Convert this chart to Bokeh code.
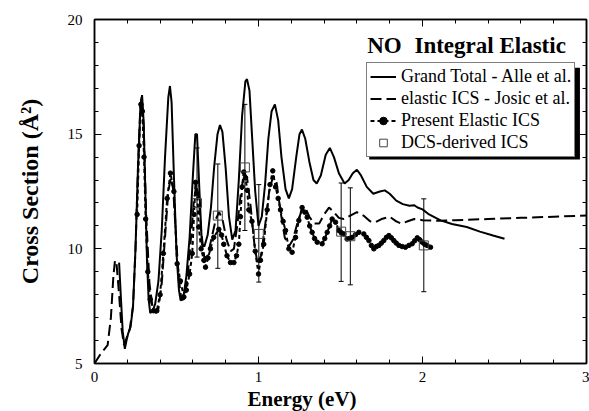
from bokeh.plotting import figure
from bokeh.models import (ColumnDataSource, Whisker, TeeHead, Legend, LegendItem, Label, Title,
                          LinearAxis, SingleIntervalTicker, BoxAnnotation, Range1d)
from bokeh.embed import file_html
from bokeh.resources import INLINE

# ---- Data ----
alle_E = [0.150, 0.160, 0.172, 0.185, 0.195, 0.205, 0.220, 0.235, 0.250, 0.265, 0.280, 0.290,
          0.300, 0.310, 0.320, 0.330, 0.340, 0.355, 0.370, 0.390, 0.410, 0.430, 0.450, 0.460,
          0.470, 0.485, 0.500, 0.515, 0.525, 0.540, 0.560, 0.580, 0.600, 0.615, 0.625, 0.640,
          0.655, 0.670, 0.690, 0.710, 0.730, 0.750, 0.765, 0.780, 0.800, 0.820, 0.840, 0.860,
          0.880, 0.900, 0.920, 0.930, 0.945, 0.960, 0.980, 1.000, 1.020, 1.040, 1.060, 1.080,
          1.100, 1.120, 1.140, 1.165, 1.185, 1.205, 1.230, 1.250, 1.265, 1.285, 1.310, 1.335,
          1.355, 1.380, 1.410, 1.435, 1.460, 1.490, 1.525, 1.550, 1.575, 1.600, 1.625, 1.660,
          1.700, 1.740, 1.770, 1.800, 1.840, 1.880, 1.920, 1.950, 1.970, 2.000, 2.040, 2.110,
          2.180, 2.270, 2.350, 2.430, 2.500]
alle_S = [9.4, 8.0, 6.4, 5.64, 6.0, 6.3, 6.6, 7.5, 10.0, 13.5, 16.2, 16.7,
          15.5, 12.5, 9.5, 7.8, 7.2, 7.3, 7.6, 8.6, 10.8, 14.0, 16.6, 17.1,
          16.4, 13.0, 9.8, 8.2, 7.75, 7.8, 8.8, 10.5, 13.2, 15.0, 15.0, 12.5,
          10.2, 10.1, 10.6, 11.8, 13.6, 15.0, 15.4, 15.1, 13.5, 11.4, 10.4, 10.8,
          13.0, 15.8, 17.3, 17.4, 16.9, 15.0, 12.5, 11.0, 11.4, 12.8, 14.8, 16.0,
          16.3, 15.6, 14.0, 12.6, 12.2, 12.6, 14.0, 15.0, 15.2, 14.8, 13.8, 13.0,
          12.85, 13.2, 14.1, 14.4, 14.0, 13.3, 12.85, 13.0, 13.3, 13.45, 13.2, 12.7,
          12.4, 12.5, 12.55, 12.4, 12.1, 11.95, 11.88, 11.9, 11.8, 11.72, 11.5, 11.24,
          11.08, 10.95, 10.75, 10.58, 10.44]

josic_E = [0.000, 0.040, 0.080, 0.100, 0.115, 0.125, 0.135, 0.150, 0.165, 0.180, 0.195, 0.215,
           0.235, 0.250, 0.265, 0.280, 0.288, 0.300, 0.315, 0.335, 0.355, 0.375, 0.390, 0.410,
           0.430, 0.450, 0.465, 0.480, 0.500, 0.515, 0.530, 0.545, 0.565, 0.585, 0.605, 0.620,
           0.635, 0.650, 0.670, 0.690, 0.715, 0.740, 0.760, 0.780, 0.805, 0.830, 0.850, 0.870,
           0.895, 0.915, 0.930, 0.950, 0.975, 0.995, 1.015, 1.040, 1.065, 1.090, 1.110, 1.135,
           1.160, 1.185, 1.210, 1.240, 1.265, 1.285, 1.310, 1.340, 1.370, 1.400, 1.430, 1.460,
           1.490, 1.520, 1.560, 1.600, 1.640, 1.680, 1.710, 1.750, 1.800, 1.840, 1.870, 1.910,
           1.950, 2.000, 2.100, 2.200, 2.400, 2.600, 2.800, 3.000]
josic_S = [5.0, 5.45, 5.8, 7.0, 8.8, 9.5, 9.3, 8.0, 6.5, 5.8, 6.1, 6.5,
           7.5, 10.0, 13.5, 16.3, 16.6, 15.3, 11.5, 8.5, 7.4, 7.2, 7.4, 8.5,
           10.5, 12.5, 13.1, 12.6, 10.2, 8.6, 7.8, 7.8, 8.6, 10.2, 12.0, 12.8,
           12.3, 10.8, 9.6, 9.7, 10.5, 11.3, 11.6, 11.3, 10.4, 9.9, 10.0, 11.0,
           12.6, 13.3, 13.1, 12.0, 10.2, 9.3, 9.7, 11.0, 12.5, 13.2, 12.9, 11.6,
           10.5, 10.1, 10.4, 11.2, 11.7, 11.8, 11.4, 11.1, 11.1, 11.5, 11.8, 11.6,
           11.35, 11.3, 11.45, 11.6, 11.45, 11.2, 11.15, 11.3, 11.4, 11.2, 11.1, 11.2,
           11.3, 11.25, 11.22, 11.25, 11.3, 11.35, 11.4, 11.45]

present_E = [0.260, 0.272, 0.283, 0.292, 0.302, 0.312, 0.325, 0.340, 0.360, 0.380, 0.400, 0.420,
             0.443, 0.463, 0.484, 0.504, 0.524, 0.545, 0.560, 0.580, 0.596, 0.607, 0.616, 0.626,
             0.636, 0.650, 0.667, 0.677, 0.692, 0.707, 0.727, 0.758, 0.775, 0.788, 0.808, 0.829,
             0.850, 0.866, 0.880, 0.890, 0.900, 0.910, 0.921, 0.931, 0.941, 0.960, 0.980, 1.000,
             1.012, 1.032, 1.053, 1.070, 1.087, 1.104, 1.120, 1.134, 1.150, 1.165, 1.185, 1.205,
             1.226, 1.246, 1.266, 1.282, 1.297, 1.312, 1.327, 1.342, 1.358, 1.388, 1.404, 1.419,
             1.434, 1.449, 1.470, 1.490, 1.505, 1.520, 1.540, 1.555, 1.571, 1.592, 1.612, 1.642,
             1.658, 1.673, 1.688, 1.703, 1.719, 1.734, 1.749, 1.764, 1.780, 1.795, 1.810, 1.825,
             1.840, 1.856, 1.876, 1.896, 1.917, 1.937, 1.952, 1.968, 1.983, 1.998, 2.013, 2.028,
             2.049]
present_S = [11.5, 14.5, 16.3, 16.0, 14.0, 11.3, 9.0, 7.8, 7.3, 7.3, 8.0, 9.8,
             12.2, 13.3, 12.5, 9.35, 8.6, 7.9, 8.2, 8.9, 9.8, 11.5, 12.9, 12.4,
             10.95, 10.0, 9.5, 9.2, 9.6, 10.0, 10.5, 10.85, 10.6, 10.2, 9.7, 9.4,
             9.4, 9.7, 10.2, 11.4, 12.7, 13.35, 13.1, 12.55, 11.7, 11.2, 9.9, 8.9,
             9.5, 10.2, 11.7, 12.8, 13.4, 12.7, 12.2, 11.7, 11.2, 10.8, 10.0, 9.85,
             10.5, 11.24, 11.8, 11.6, 11.38, 11.0, 10.72, 10.45, 10.29, 10.22, 10.45, 10.72,
             11.0, 11.3, 11.16, 10.8, 10.7, 10.65, 10.43, 10.45, 10.5, 10.62, 10.72, 10.65,
             10.5, 10.36, 10.15, 10.0, 10.1, 10.15, 10.25, 10.36, 10.5, 10.58, 10.48, 10.36,
             10.25, 10.15, 10.1, 10.07, 10.15, 10.22, 10.35, 10.48, 10.4, 10.29, 10.2, 10.15,
             10.07]

dcs_E = [0.625, 0.752, 0.917, 1.002, 1.504, 1.560, 2.008]
dcs_S = [12.0, 11.45, 13.55, 10.65, 10.75, 10.55, 10.15]
dcs_lower = [9.64, 9.15, 10.8, 8.55, 8.58, 8.43, 8.13]
dcs_upper = [14.4, 13.7, 16.3, 12.8, 12.87, 12.66, 12.18]

x_ticks_major = 1
y_ticks_major = 5

FONT = "Liberation Serif"

p = figure(width=589, height=411, x_range=Range1d(0, 3), y_range=Range1d(5, 20),
           output_backend="svg", toolbar_location=None,
           min_border_left=94, min_border_right=3, min_border_top=19, min_border_bottom=48)
p.xgrid.visible = False
p.ygrid.visible = False
p.outline_line_color = "black"
p.outline_line_width = 1.5
p.background_fill_color = "white"
p.border_fill_color = "white"

def style_axis(ax, show_labels):
    ax.axis_line_color = "black"
    ax.axis_line_width = 1.5
    ax.major_tick_in = 7
    ax.major_tick_out = 0
    ax.minor_tick_in = 4
    ax.minor_tick_out = 0
    ax.major_tick_line_color = "black"
    ax.minor_tick_line_color = "black"
    ax.major_label_text_font = FONT
    if show_labels:
        ax.major_label_text_font_size = "15px"
        ax.major_label_text_color = "black"
    else:
        ax.major_label_text_font_size = "1px"
        ax.major_label_text_color = None
        ax.major_label_standoff = 0

xt = SingleIntervalTicker(interval=x_ticks_major, num_minor_ticks=5)
yt = SingleIntervalTicker(interval=y_ticks_major, num_minor_ticks=5)

p.xaxis.ticker = xt
p.yaxis.ticker = yt
style_axis(p.xaxis[0], True)
style_axis(p.yaxis[0], True)
p.xaxis.major_label_standoff = 8
p.yaxis.major_label_standoff = 12

p.yaxis.axis_label = "Cross Section (Å²)"
p.yaxis.axis_label_text_font = FONT
p.yaxis.axis_label_text_font_style = "bold"
p.yaxis.axis_label_text_font_size = "24px"
p.yaxis.axis_label_text_color = "black"
p.yaxis.axis_label_standoff = 22

top = LinearAxis(ticker=SingleIntervalTicker(interval=x_ticks_major, num_minor_ticks=5))
right = LinearAxis(ticker=SingleIntervalTicker(interval=y_ticks_major, num_minor_ticks=5))
style_axis(top, False)
style_axis(right, False)
p.add_layout(top, "above")
p.add_layout(right, "right")

src_alle = ColumnDataSource(dict(x=alle_E, y=alle_S))
src_josic = ColumnDataSource(dict(x=josic_E, y=josic_S))
src_pres = ColumnDataSource(dict(x=present_E, y=present_S))
src_dcs = ColumnDataSource(dict(x=dcs_E, y=dcs_S, lower=dcs_lower, upper=dcs_upper))

r_alle = p.line("x", "y", source=src_alle, line_color="black", line_width=2)
r_josic = p.line("x", "y", source=src_josic, line_color="black", line_width=2, line_dash="11 5")
r_pres_l = p.line("x", "y", source=src_pres, line_color="black", line_width=2, line_dash="4 3")
r_pres_c = p.scatter("x", "y", source=src_pres, marker="circle", size=4.5,
                     fill_color="black", line_color="black")

wh = Whisker(source=src_dcs, base="x", lower="lower", upper="upper", dimension="height",
             line_color="black", line_width=1,
             upper_head=TeeHead(size=5, line_color="black", line_width=1),
             lower_head=TeeHead(size=5, line_color="black", line_width=1))
p.add_layout(wh)
r_dcs = p.scatter("x", "y", source=src_dcs, marker="square", size=9,
                  fill_color=None, line_color="#444444", line_width=1)

# legend shadow
shadow = BoxAnnotation(left=1.675, right=2.96, top=17.9, bottom=13.9,
                       fill_color="black", fill_alpha=1.0, line_color=None, level="underlay")
p.add_layout(shadow)

legend = Legend(items=[
    LegendItem(label="Grand Total - Alle et al.", renderers=[r_alle]),
    LegendItem(label="elastic ICS - Josic et al.", renderers=[r_josic]),
    LegendItem(label="Present Elastic ICS", renderers=[r_pres_l, r_pres_c]),
    LegendItem(label="DCS-derived ICS", renderers=[r_dcs]),
], location=(272, 206))
legend.label_text_font = FONT
legend.label_text_font_size = "18px"
legend.label_text_color = "black"
legend.glyph_width = 26
legend.glyph_height = 19
legend.label_height = 19
legend.label_standoff = 5
legend.spacing = 1
legend.padding = 3
legend.margin = 0
legend.border_line_color = "black"
legend.border_line_width = 1.5
legend.background_fill_color = "white"
legend.background_fill_alpha = 1.0
p.add_layout(legend)

title_no = Label(x=1.663, y=18.85, text="NO", text_font=FONT,
                 text_font_style="bold", text_font_size="23px", text_color="black",
                 text_baseline="alphabetic", text_align="left")
title_rest = Label(x=1.951, y=18.85, text="Integral Elastic", text_font=FONT,
                   text_font_style="bold", text_font_size="23px", text_color="black",
                   text_baseline="alphabetic", text_align="left")
p.add_layout(title_no)
p.add_layout(title_rest)

xlabel = Title(text="Energy (eV)", align="left", offset=153, standoff=0,
               text_font=FONT, text_font_style="bold", text_font_size="21px",
               text_color="black", text_line_height=0.9)
p.add_layout(xlabel, "below")

open("out.html", "w").write(file_html(p, INLINE))
